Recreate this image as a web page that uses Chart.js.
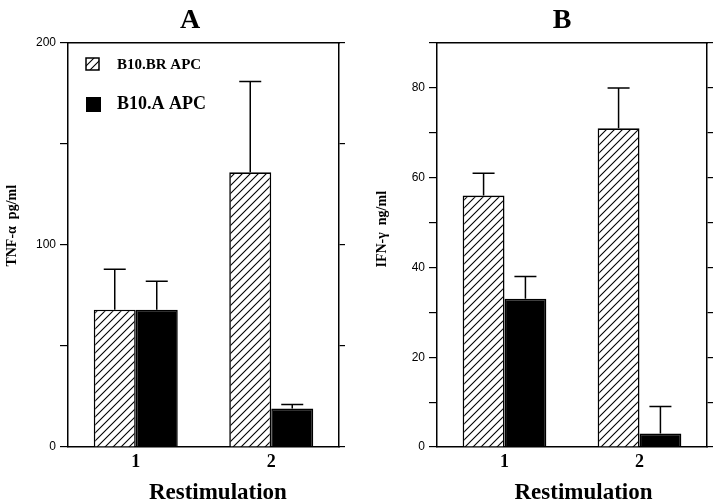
<!DOCTYPE html>
<html>
<head>
<meta charset="utf-8">
<script src="https://cdn.jsdelivr.net/npm/chart.js@4/dist/chart.umd.min.js"></script>
<style>
  html, body { margin: 0; padding: 0; background: #fff; }
  #wrap { position: relative; width: 720px; height: 501px; overflow: hidden; background: #fff; }
  #wrap canvas { position: absolute; top: 0; }
</style>
</head>
<body>
<div id="wrap">
  <canvas id="chartA" width="380" height="505" style="left:0"></canvas>
  <canvas id="chartB" width="404" height="505" style="left:360px"></canvas>
</div>
<script>
// Data
const categories = ['1', '2'];
const seriesNames = ['B10.BR APC', 'B10.A APC'];

// Panel A: TNF-alpha (pg/ml)
const tnfBR = [68, 136];
const tnfBRErr = [20, 45];
const tnfA = [68, 19];
const tnfAErr = [14, 2];

// Panel B: IFN-gamma (ng/ml)
const ifnBR = [56, 71];
const ifnBRErr = [5, 9];
const ifnA = [33, 3];
const ifnAErr = [5, 6];

const SERIF = "'Liberation Serif', 'Times New Roman', serif";
const SANS = "'Liberation Sans', Arial, sans-serif";

// diagonal hatch for the white bars
function makeHatch() {
    const c = document.createElement('canvas');
    c.width = 8; c.height = 8;
    const g = c.getContext('2d');
    g.fillStyle = '#fff';
    g.fillRect(0, 0, 8, 8);
    g.strokeStyle = '#000';
    g.lineWidth = 1.1;
    g.beginPath();
    g.moveTo(0, 8); g.lineTo(8, 0);
    g.moveTo(-2, 2); g.lineTo(2, -2);
    g.moveTo(6, 10); g.lineTo(10, 6);
    g.stroke();
    return g.createPattern(c, 'repeat');
}
const hatch = makeHatch();

// upward-only error bars with a cap
const errorBars = {
    id: 'errorBars',
    afterDatasetsDraw(chart, args, opts) {
        const ctx = chart.ctx;
        const y = chart.scales.y;
        ctx.save();
        ctx.strokeStyle = '#000';
        ctx.lineWidth = 1.5;
        chart.data.datasets.forEach((ds, i) => {
            const errs = opts.errors[i];
            chart.getDatasetMeta(i).data.forEach((bar, j) => {
                const top = y.getPixelForValue(ds.data[j] + errs[j]);
                ctx.beginPath();
                ctx.moveTo(bar.x, bar.y);
                ctx.lineTo(bar.x, top);
                ctx.moveTo(bar.x - 11, top);
                ctx.lineTo(bar.x + 11, top);
                ctx.stroke();
            });
        });
        ctx.restore();
    }
};

// legend sitting inside the top-left of panel A
const insetLegend = {
    id: 'insetLegend',
    afterDraw(chart, args, opts) {
        if (!opts.show) return;
        const ctx = chart.ctx;
        const a = chart.chartArea;
        ctx.save();
        // hatched entry
        ctx.fillStyle = hatch;
        ctx.fillRect(a.left + 18, a.top + 15, 13, 12);
        ctx.strokeStyle = '#000';
        ctx.lineWidth = 1.5;
        ctx.strokeRect(a.left + 18, a.top + 15, 13, 12);
        ctx.fillStyle = '#000';
        ctx.textBaseline = 'middle';
        ctx.font = 'bold 15px ' + SERIF;
        ctx.fillText(seriesNames[0], a.left + 49, a.top + 22);
        // solid entry
        ctx.fillRect(a.left + 18, a.top + 54, 15, 15);
        ctx.font = 'bold 18px ' + SERIF;
        ctx.fillText(seriesNames[1], a.left + 49, a.top + 61);
        ctx.restore();
    }
};

function makeChart(id, cfg) {
    const tickGrid = len => ({ drawOnChartArea: false, drawTicks: true, tickLength: len, color: '#000', lineWidth: 1.2 });
    const yRange = { min: 0, max: cfg.max };
    return new Chart(document.getElementById(id), {
        type: 'bar',
        data: {
            labels: categories,
            datasets: [
                { label: seriesNames[0], data: cfg.br, backgroundColor: hatch, borderColor: '#000', borderWidth: 1.6 },
                { label: seriesNames[1], data: cfg.a, backgroundColor: '#000', borderColor: '#000', borderWidth: 1.6 }
            ]
        },
        options: {
            responsive: false,
            animation: false,
            events: [],
            categoryPercentage: 0.62,
            barPercentage: 1,
            layout: { padding: 0 },
            scales: {
                x: {
                    offset: true,
                    grid: { drawOnChartArea: false, drawTicks: false },
                    border: { color: '#000', width: 1.5 },
                    ticks: { color: '#000', padding: 5, font: { family: SERIF, size: 18, weight: 'bold' } },
                    title: {
                        display: true, text: cfg.xTitle, color: '#000',
                        font: { family: SERIF, size: 23, weight: 'bold', lineHeight: 1 },
                        padding: { top: 0, bottom: 0 }
                    },
                    afterFit: s => { s.height = 58; }
                },
                x2: {
                    position: 'top',
                    offset: true,
                    grid: { drawOnChartArea: false, drawTicks: false },
                    border: { color: '#000', width: 1.5 },
                    ticks: { display: false },
                    afterFit: s => { s.height = 0; }
                },
                y: {
                    ...yRange,
                    position: 'left',
                    grid: tickGrid(8),
                    border: { color: '#000', width: 1.5 },
                    ticks: {
                        stepSize: cfg.step, padding: 4, color: '#000',
                        font: { family: SANS, size: 12 },
                        callback: v => (v % cfg.labelStep === 0 ? v : '')
                    },
                    title: {
                        display: true, text: cfg.yTitle, color: '#000',
                        font: { family: SERIF, size: 14, weight: 'bold' },
                        padding: { top: cfg.yTitlePad, bottom: 0 }
                    },
                    afterFit: s => { s.width = cfg.leftW; }
                },
                y2: {
                    ...yRange,
                    position: 'right',
                    grid: tickGrid(6),
                    border: { color: '#000', width: 1.5 },
                    ticks: { stepSize: cfg.step, display: false },
                    afterFit: s => { s.width = cfg.rightW; }
                }
            },
            plugins: {
                legend: { display: false },
                tooltip: { enabled: false },
                title: {
                    display: true, text: cfg.title, color: '#000',
                    font: { family: SERIF, size: 28, weight: 'bold' },
                    padding: { top: 4, bottom: 5.4 }
                },
                errorBars: { errors: cfg.errs },
                insetLegend: { show: cfg.legend }
            }
        },
        plugins: [errorBars, insetLegend]
    });
}

makeChart('chartA', {
    title: 'A', br: tnfBR, a: tnfA, errs: [tnfBRErr, tnfAErr],
    max: 200, step: 50, labelStep: 100,
    yTitle: ' '.repeat(11) + 'TNF-α  pg/ml', yTitlePad: 4,
    xTitle: ' '.repeat(5) + 'Restimulation',
    leftW: 68, rightW: 41, legend: true
});

makeChart('chartB', {
    title: 'B', br: ifnBR, a: ifnA, errs: [ifnBRErr, ifnAErr],
    max: 90, step: 10, labelStep: 20,
    yTitle: ' '.repeat(9) + 'IFN-γ  ng/ml', yTitlePad: 14,
    xTitle: ' '.repeat(4) + 'Restimulation',
    leftW: 77, rightW: 57, legend: false
});
</script>
</body>
</html>
